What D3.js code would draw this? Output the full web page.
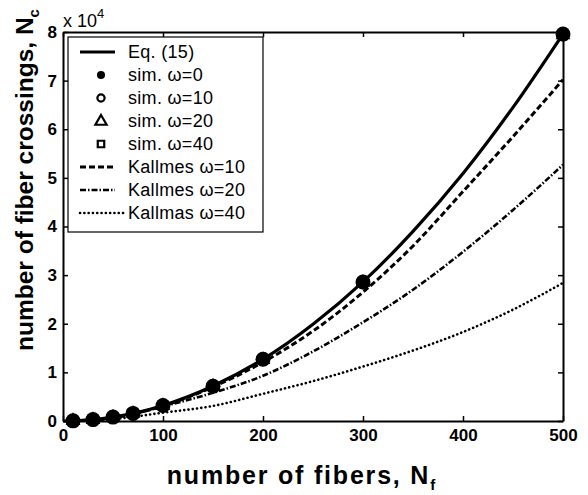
<!DOCTYPE html>
<html>
<head>
<meta charset="utf-8">
<script src="https://cdn.jsdelivr.net/npm/d3@7"></script>
<style>
  body { margin: 0; background: #fff; }
  text { font-family: "Liberation Sans", Arial, Helvetica, sans-serif; fill: #000; }
</style>
</head>
<body>
<div id="chart"></div>
<script>
// values in units of 10^4 crossings
var eqN  = [0, 25, 50, 75, 100, 150, 200, 250, 300, 350, 400, 450, 500];
var eqNc = [0, 0.02, 0.08, 0.18, 0.32, 0.72, 1.27, 1.99, 2.86, 3.90, 5.09, 6.45, 7.96];

var simN   = [10, 30, 50, 70, 100, 150, 200, 300, 500];
var sim0   = [0.003, 0.029, 0.08, 0.156, 0.318, 0.716, 1.27, 2.86, 7.96];
var sim10  = [0.003, 0.028, 0.08, 0.155, 0.317, 0.715, 1.27, 2.85, 7.95];
var sim20  = [0.003, 0.028, 0.079, 0.155, 0.316, 0.713, 1.26, 2.85, 7.94];
var sim40  = [0.003, 0.028, 0.079, 0.154, 0.315, 0.711, 1.26, 2.84, 7.93];

var kalN   = [10, 50, 100, 150, 200, 250, 300, 350, 400, 450, 500];
var kal10  = [0.003, 0.07, 0.31, 0.70, 1.21, 1.85, 2.65, 3.60, 4.72, 5.85, 7.02];
var kal20  = [0.002, 0.06, 0.30, 0.58, 0.93, 1.43, 2.03, 2.70, 3.48, 4.34, 5.27];
var kal40  = [0.001, 0.04, 0.17, 0.31, 0.56, 0.82, 1.12, 1.45, 1.83, 2.29, 2.84];

var xTicks = [0, 100, 200, 300, 400, 500];
var yTicks = [0, 1, 2, 3, 4, 5, 6, 7, 8];

var legendLabels = ["Eq. (15)", "sim. \u03c9=0", "sim. \u03c9=10", "sim. \u03c9=20", "sim. \u03c9=40",
                    "Kallmes \u03c9=10", "Kallmes \u03c9=20", "Kallmas \u03c9=40"];

var W = 588, H = 495;
var margin = {top: 32, right: 25, bottom: 74, left: 63};

var svg = d3.select("#chart").append("svg")
    .attr("width", W)
    .attr("height", H);

var x = d3.scaleLinear().domain([0, 500]).range([margin.left, W - margin.right]);
var y = d3.scaleLinear().domain([0, 8]).range([H - margin.bottom, margin.top]);

function zip(xs, ys) { return xs.map(function(d, i) { return {x: d, y: ys[i]}; }); }

var line = d3.line()
    .x(function(d) { return x(d.x); })
    .y(function(d) { return y(d.y); })
    .curve(d3.curveMonotoneX);

// axes, ticks inside like matlab
var axisStyle = function(g) {
  g.select(".domain").attr("stroke", "#000").attr("stroke-width", 2);
  g.selectAll(".tick line").attr("stroke", "#000").attr("stroke-width", 1.5);
  g.selectAll(".tick text").attr("font-size", 17).attr("font-weight", "bold")
    .attr("font-family", '"Liberation Sans", Arial, sans-serif');
};

svg.append("g")
  .attr("transform", "translate(0," + y(0) + ")")
  .call(d3.axisBottom(x).tickValues(xTicks).tickSize(-5).tickSizeOuter(0).tickPadding(8))
  .call(axisStyle);
svg.append("g")
  .attr("transform", "translate(0," + y(8) + ")")
  .call(d3.axisTop(x).tickValues(xTicks).tickSize(-5).tickSizeOuter(0).tickFormat(""))
  .call(axisStyle);
svg.append("g")
  .attr("transform", "translate(" + x(0) + ",0)")
  .call(d3.axisLeft(y).tickValues(yTicks).tickSize(-5).tickSizeOuter(0).tickPadding(6))
  .call(axisStyle);
svg.append("g")
  .attr("transform", "translate(" + x(500) + ",0)")
  .call(d3.axisRight(y).tickValues(yTicks).tickSize(-5).tickSizeOuter(0).tickFormat(""))
  .call(axisStyle);

// exponent label
var expo = svg.append("text").attr("x", x(0)).attr("y", 27).attr("font-size", 18);
expo.append("tspan").text("x 10");
expo.append("tspan").attr("font-size", 13).attr("dy", -9).text("4");

// curves
var styles = [
  {data: zip(eqN, eqNc), w: 3.2, dash: null},
  {data: zip(kalN, kal10), w: 3, dash: "6,3"},
  {data: zip(kalN, kal20), w: 2.6, dash: "6,2,1.5,2"},
  {data: zip(kalN, kal40), w: 2.6, dash: "0.1,4.2"}
];
styles.slice().reverse().forEach(function(s) {
  svg.append("path")
    .datum(s.data)
    .attr("fill", "none")
    .attr("stroke", "#000")
    .attr("stroke-width", s.w)
    .attr("stroke-linecap", s.dash === "0.1,4.2" ? "round" : "butt")
    .attr("stroke-dasharray", s.dash)
    .attr("d", line);
});

// simulation markers, mostly hidden under the filled dots
var sq = d3.symbol().type(d3.symbolSquare).size(60);
var tri = d3.symbol().type(d3.symbolTriangle).size(55);

svg.append("g").selectAll("path").data(zip(simN, sim40)).join("path")
  .attr("transform", function(d) { return "translate(" + x(d.x) + "," + y(d.y) + ")"; })
  .attr("d", sq).attr("fill", "none").attr("stroke", "#000").attr("stroke-width", 2);
svg.append("g").selectAll("path").data(zip(simN, sim20)).join("path")
  .attr("transform", function(d) { return "translate(" + x(d.x) + "," + y(d.y) + ")"; })
  .attr("d", tri).attr("fill", "none").attr("stroke", "#000").attr("stroke-width", 2);
svg.append("g").selectAll("circle").data(zip(simN, sim10)).join("circle")
  .attr("cx", function(d) { return x(d.x); })
  .attr("cy", function(d) { return y(d.y); })
  .attr("r", 6).attr("fill", "none").attr("stroke", "#000").attr("stroke-width", 2);
svg.append("g").selectAll("circle").data(zip(simN, sim0)).join("circle")
  .attr("cx", function(d) { return x(d.x); })
  .attr("cy", function(d) { return y(d.y); })
  .attr("r", 7.5).attr("fill", "#000");

// legend
var leg = svg.append("g");
leg.append("rect")
  .attr("x", 68).attr("y", 37).attr("width", 195).attr("height", 195)
  .attr("fill", "#fff").attr("stroke", "#000").attr("stroke-width", 1.2);

var rowY = function(i) { return 52 + i * 23; };
legendLabels.forEach(function(lab, i) {
  var yy = rowY(i);
  if (i === 0 || i >= 5) {
    var s = styles[i === 0 ? 0 : i - 4];
    leg.append("line")
      .attr("x1", 80).attr("x2", i === 7 ? 124 : 115).attr("y1", yy).attr("y2", yy)
      .attr("stroke", "#000").attr("stroke-width", s.w)
      .attr("stroke-linecap", i === 7 ? "round" : "butt")
      .attr("stroke-dasharray", s.dash);
  } else if (i === 1) {
    leg.append("circle").attr("cx", 101).attr("cy", yy).attr("r", 4).attr("fill", "#000");
  } else if (i === 2) {
    leg.append("circle").attr("cx", 101).attr("cy", yy).attr("r", 3.6)
      .attr("fill", "none").attr("stroke", "#000").attr("stroke-width", 2.2);
  } else if (i === 3) {
    leg.append("path").attr("transform", "translate(101," + (yy + 0.5) + ")")
      .attr("d", d3.symbol().type(d3.symbolTriangle).size(55))
      .attr("fill", "none").attr("stroke", "#000").attr("stroke-width", 2.2);
  } else {
    leg.append("path").attr("transform", "translate(101," + yy + ")")
      .attr("d", d3.symbol().type(d3.symbolSquare).size(42))
      .attr("fill", "none").attr("stroke", "#000").attr("stroke-width", 2.2);
  }
  leg.append("text")
    .attr("x", 128).attr("y", yy + 6)
    .attr("font-size", 18)
    .attr("letter-spacing", 0.3)
    .text(lab);
});

// axis titles
var xl = svg.append("text")
  .attr("x", 301).attr("y", 484)
  .attr("text-anchor", "middle")
  .attr("font-size", 25).attr("font-weight", "bold")
  .attr("letter-spacing", 1.8)
  .text("number of fibers, N");
xl.append("tspan").attr("font-size", 15).attr("dy", 6).attr("letter-spacing", 0).text("f");

var yl = svg.append("text")
  .attr("transform", "translate(33,180) rotate(-90)")
  .attr("text-anchor", "middle")
  .attr("font-size", 24.5).attr("font-weight", "bold")
  .text("number of fiber crossings, N");
yl.append("tspan").attr("font-size", 15).attr("dy", 6).text("c");
</script>
</body>
</html>
